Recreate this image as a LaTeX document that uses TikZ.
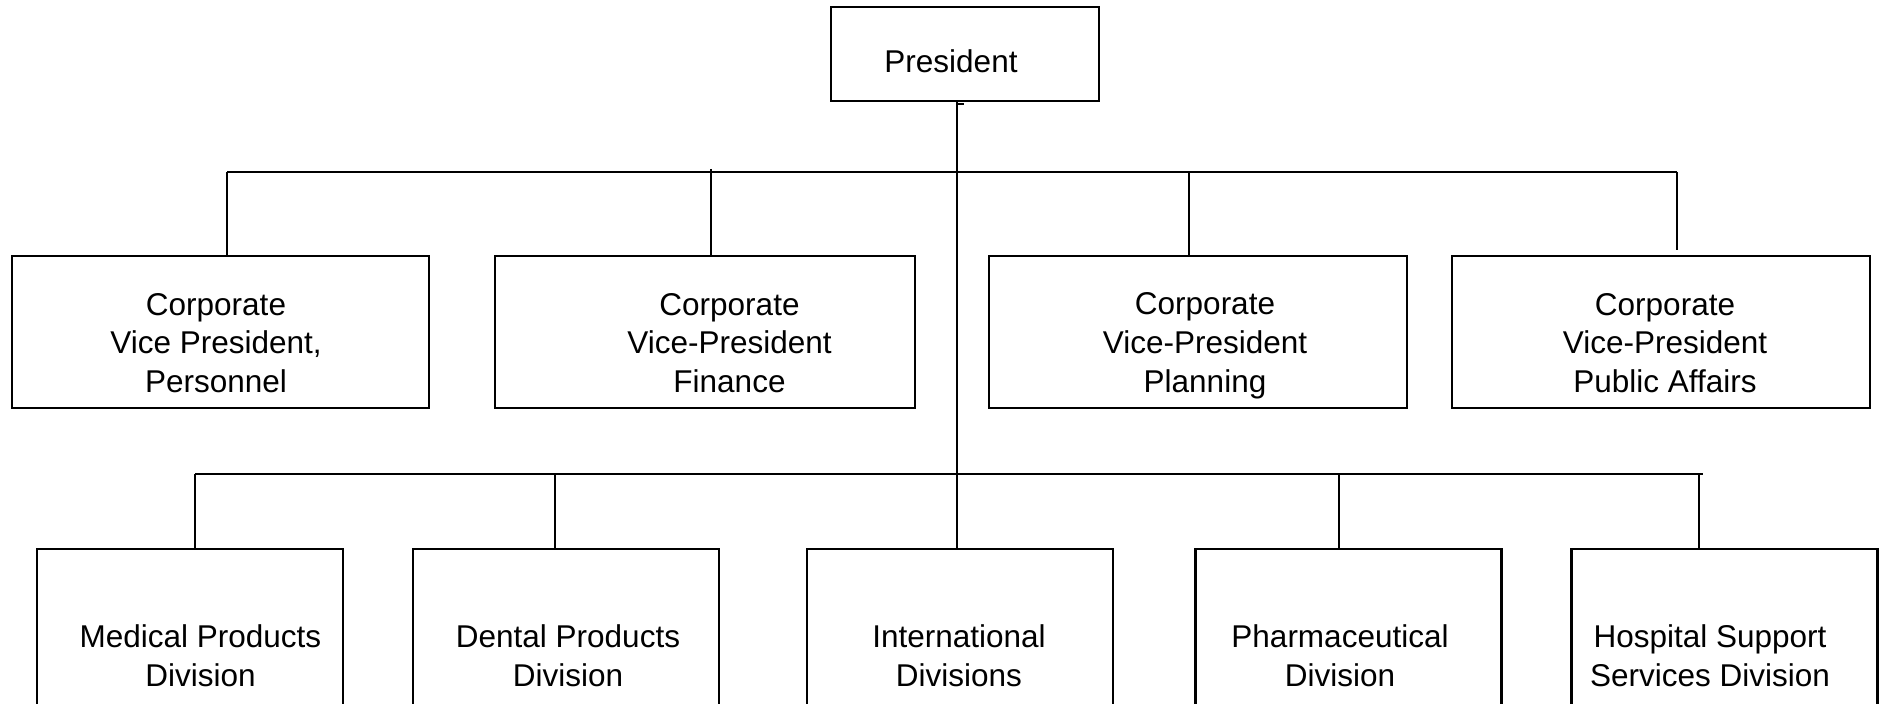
\documentclass[tikz,border=0pt]{standalone}
\usepackage{fontspec}
\setmainfont{Liberation Sans}
\begin{document}
% Organisation chart: president, four corporate vice-presidents, five divisions.
% One unit = 0.5pt; y runs downwards.
\begin{tikzpicture}[x=0.5pt,y=-0.5pt,
  box/.style={draw=black, line width=1.1pt, rectangle, inner sep=0pt},
  vpbox/.style={box, minimum width=209pt, minimum height=76pt},
  divbox/.style={box, minimum width=153pt, minimum height=110pt},
  lbl/.style={align=center, inner sep=0pt, font=\fontsize{15.75}{19.4}\selectfont},
  wire/.style={draw=black, line width=1.1pt}]
\clip (0,0) rectangle (1883,704);
\fill[white] (0,0) rectangle (1883,704);

% ---- boxes ----
\node[box, minimum width=134pt, minimum height=47pt] (pres) at (965,54) {};

\node[vpbox, minimum width=208.5pt] (vp1) at (220.5,332) {};
\node[vpbox, minimum width=210pt]   (vp2) at (705,332) {};
\node[vpbox]                        (vp3) at (1198,332) {};
\node[vpbox]                        (vp4) at (1661,332) {};

\node[divbox] (dv1) at (190,659) {};
\node[divbox] (dv2) at (566,659) {};
\node[divbox] (dv3) at (960,659) {};
\node[divbox] (dv4) at (1348.5,659) {};
\node[divbox] (dv5) at (1724.5,659) {};

% ---- labels ----
\node[lbl] (presT) at (951,61.5) {President};

\node[lbl] (vp1T) at (216,343)   {Corporate\\Vice President,\\Personnel};
\node[lbl] (vp2T) at (729.5,343) {Corporate\\Vice-President\\Finance};
\node[lbl] (vp3T) at (1205,346)  {Corporate\\Vice-President\\Planning};
\node[lbl] (vp4T) at (1665,343)  {Corporate\\Vice-President\\Public Affairs};

\node[lbl] (dv1T) at (200.5,655.5) {Medical Products\\Division};
\node[lbl] (dv2T) at (568,655.5)   {Dental Products\\Division};
\node[lbl] (dv3T) at (959,655.5)   {International\\Divisions};
\node[lbl] (dv4T) at (1340,655.5)  {Pharmaceutical\\Division};
\node[lbl] (dv5T) at (1710,655.5)  {Hospital Support\\Services Division};

% ---- junction points on the two buses ----
\coordinate (t1) at (227,172);
\coordinate (t2) at (711,172);
\coordinate (t3) at (1189,172);
\coordinate (t4) at (1677,172);

\coordinate (b1) at (195,474);
\coordinate (b2) at (555,474);
\coordinate (b3) at (957,474);
\coordinate (b4) at (1339,474);
\coordinate (b5) at (1699,474);
\coordinate (bEnd) at (1703,474);

% ---- connectors ----
% trunk from the president down to the international divisions
\draw[wire] (pres.south -| b3) -- (b3 |- dv3.north);
\draw[wire] ([yshift=-1pt]pres.south -| b3) -- ++(7,0);

% vice-president bus
\draw[wire] (t1) -- (t4);
\draw[wire] (t1) -- (t1 |- vp1.north);
\draw[wire] ([yshift=1.5pt]t2) -- (t2 |- vp2.north);
\draw[wire] (t3) -- (t3 |- vp3.north);
\draw[wire] (t4) -- ([yshift=2.5pt]t4 |- vp4.north);

% division bus
\draw[wire] (b1) -- (bEnd);
\draw[wire] (b1) -- (b1 |- dv1.north);
\draw[wire] (b2) -- (b2 |- dv2.north);
\draw[wire] (b4) -- (b4 |- dv4.north);
\draw[wire] (b5) -- (b5 |- dv5.north);
\end{tikzpicture}
\end{document}
